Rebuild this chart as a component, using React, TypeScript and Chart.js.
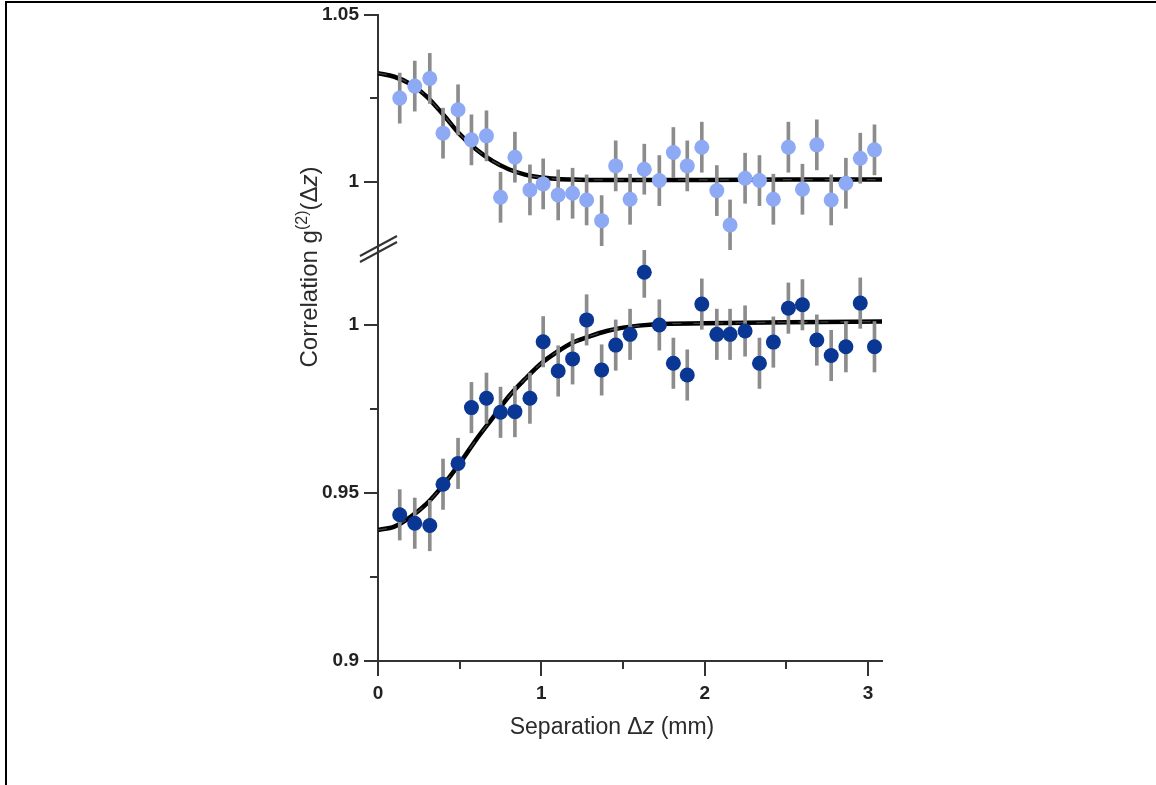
import React, { useEffect, useRef } from 'react';
import { Chart, registerables } from 'chart.js';

Chart.register(...registerables);

// Separation Δz (mm) of every measured point (same grid for both series)
const separations = [0.133, 0.225, 0.317, 0.398, 0.49, 0.572, 0.664, 0.75, 0.838, 0.93, 1.011, 1.103, 1.191, 1.277, 1.369, 1.455, 1.543, 1.63, 1.722, 1.808, 1.893, 1.982, 2.074, 2.155, 2.247, 2.335, 2.42, 2.512, 2.598, 2.686, 2.774, 2.864, 2.952, 3.039];

// upper panel (bunching, light blue)
const upperValues = [1.0251, 1.0287, 1.031, 1.0146, 1.0216, 1.0126, 1.0138, 0.9954, 1.0074, 0.9976, 0.9994, 0.9961, 0.9966, 0.9946, 0.9884, 1.0048, 0.9948, 1.0038, 1.0004, 1.0088, 1.0048, 1.0104, 0.9974, 0.9871, 1.0011, 1.0004, 0.9948, 1.0104, 0.9978, 1.0111, 0.9946, 0.9996, 1.0071, 1.0096];

// lower panel (antibunching, dark blue)
const lowerValues = [0.9435, 0.941, 0.9403, 0.9526, 0.9588, 0.9754, 0.9782, 0.974, 0.9742, 0.9782, 0.995, 0.9863, 0.9899, 1.0015, 0.9866, 0.994, 0.9972, 1.0157, 1.0, 0.9886, 0.9851, 1.0062, 0.9972, 0.9972, 0.9982, 0.9886, 0.9949, 1.005, 1.006, 0.9955, 0.9909, 0.9935, 1.0065, 0.9935];

// half length of the error bars
const errorHalf = 0.0075;

// fitted curves
const fitX = [0, 0.1, 0.2, 0.3, 0.4, 0.5, 0.6, 0.7, 0.8, 0.9, 1.0, 1.1, 1.2, 1.3, 1.4, 1.5, 1.7, 2.0, 2.5, 3.1];
const upperFit = [1.0326, 1.0315, 1.0293, 1.0255, 1.0201, 1.0143, 1.0098, 1.0063, 1.0038, 1.0022, 1.0013, 1.0009, 1.0007, 1.0006, 1.0006, 1.0006, 1.0006, 1.0006, 1.0007, 1.0007];
const lowerFit = [0.939, 0.94, 0.9429, 0.9469, 0.9524, 0.9588, 0.9658, 0.9722, 0.9787, 0.9839, 0.9886, 0.9921, 0.9949, 0.9967, 0.9982, 0.9992, 1.0002, 1.0005, 1.0008, 1.001];

// axis ticks
const xTickValues = [0, 0.5, 1, 1.5, 2, 2.5, 3];
const xTickLabels = ['0', '', '1', '', '2', '', '3'];
const upperTickValues = [1, 1.025, 1.05];
const upperTickLabels = ['1', '', '1.05'];
const lowerTickValues = [0.9, 0.925, 0.95, 0.975, 1];
const lowerTickLabels = ['0.9', '', '0.95', '', '1'];

// axis ranges
const xRange = [0, 3.085];
const upperRange = [0.9796, 1.05];
const lowerRange = [0.9, 1.0223];

const AXIS = '#333333';
const FONT = '"Liberation Sans", Arial, Helvetica, sans-serif';
const LIGHT = '#8eaaf5';
const DARK = '#0b3794';
const BAR = '#8c8c8c';

type Run = { text: string; font: string; dy?: number };

function drawRuns(ctx: CanvasRenderingContext2D, runs: Run[], cx: number, baseY: number) {
  let w = 0;
  for (const r of runs) {
    ctx.font = r.font;
    w += ctx.measureText(r.text).width;
  }
  let x = cx - w / 2;
  for (const r of runs) {
    ctx.font = r.font;
    ctx.fillText(r.text, x, baseY + (r.dy || 0));
    x += ctx.measureText(r.text).width;
  }
}

const decorPlugin = {
  id: 'decor',
  afterDraw(chart: any) {
    const ctx: CanvasRenderingContext2D = chart.ctx;
    const { x, y, y2 } = chart.scales;
    const area = chart.chartArea;
    ctx.save();
    ctx.strokeStyle = AXIS;
    ctx.lineWidth = 2;
    ctx.lineCap = 'butt';

    // y tick marks
    const yAxes: [any, string[]][] = [[y, lowerTickLabels], [y2, upperTickLabels]];
    for (const [sc, labels] of yAxes) {
      sc.ticks.forEach((t: any, i: number) => {
        const p = Math.round(sc.getPixelForValue(t.value));
        const len = labels[i] ? 14 : 8;
        ctx.beginPath();
        ctx.moveTo(area.left - len, p);
        ctx.lineTo(area.left + 1, p);
        ctx.stroke();
      });
    }
    // x tick marks
    x.ticks.forEach((t: any, i: number) => {
      const p = Math.round(x.getPixelForValue(t.value));
      const len = xTickLabels[i] ? 15 : 8;
      ctx.beginPath();
      ctx.moveTo(p, area.bottom - 1);
      ctx.lineTo(p, area.bottom + len);
      ctx.stroke();
    });

    // axis break marks
    const bx = area.left;
    const by = y2.bottom;
    ctx.lineWidth = 2;
    ctx.beginPath();
    ctx.moveTo(bx - 18, by + 6);
    ctx.lineTo(bx + 19, by - 14);
    ctx.moveTo(bx - 18, by + 12);
    ctx.lineTo(bx + 19, by - 8);
    ctx.stroke();

    // axis titles
    ctx.fillStyle = '#2b2b2b';
    ctx.textBaseline = 'alphabetic';
    ctx.textAlign = 'left';
    const reg = `23px ${FONT}`;
    const ital = `italic 23px ${FONT}`;
    drawRuns(ctx, [
      { text: 'Separation \u0394', font: reg },
      { text: 'z', font: ital },
      { text: ' (mm)', font: reg },
    ], area.left + 234, area.bottom + 73);

    const reg2 = `24px ${FONT}`;
    const ital2 = `italic 24px ${FONT}`;
    ctx.translate(area.left - 69, area.top + 252);
    ctx.rotate(-Math.PI / 2);
    drawRuns(ctx, [
      { text: 'Correlation g', font: reg2 },
      { text: '(2)', font: `16px ${FONT}`, dy: -10 },
      { text: '(\u0394', font: reg2 },
      { text: 'z', font: ital2 },
      { text: ')', font: reg2 },
    ], 0, 8);
    ctx.restore();
  },
};

function pts(xs: number[], ys: number[]) {
  return xs.map((v, i) => ({ x: v, y: ys[i] }));
}
function bars(xs: number[], ys: number[]) {
  return xs.map((v, i) => ({ x: v, y: [ys[i] - errorHalf, ys[i] + errorHalf] }));
}

const hiddenGrid = { display: true, drawOnChartArea: false, drawTicks: true, tickLength: 17, tickColor: 'rgba(0,0,0,0)', color: 'rgba(0,0,0,0)', offset: false };

function yScale(range: number[], values: number[], labels: string[], weight: number) {
  return {
    type: 'linear',
    position: 'left',
    stack: 'g2',
    stackWeight: weight,
    bounds: 'data',
    min: range[0],
    max: range[1],
    afterBuildTicks: (sc: any) => {
      sc.ticks = values.map((v) => ({ value: v }));
    },
    afterFit: (sc: any) => {
      sc.width = 60;
    },
    ticks: {
      autoSkip: false,
      padding: 2,
      color: '#222',
      font: { family: FONT, size: 19, weight: 'bold' },
      callback: (_v: any, i: number) => labels[i],
    },
    grid: { ...hiddenGrid, tickLength: 17 },
    border: { display: true, color: AXIS, width: 2 },
  };
}

export default function App() {
  const ref = useRef<HTMLCanvasElement | null>(null);

  useEffect(() => {
    if (!ref.current) return;
    const fitLine = (data: number[], axis: string) => ({
      type: 'line',
      data: pts(fitX, data),
      yAxisID: axis,
      borderColor: '#000',
      borderWidth: 4.5,
      pointRadius: 0,
      cubicInterpolationMode: 'monotone',
      order: 4,
    });
    const fitDash = (data: number[], axis: string) => ({
      type: 'line',
      data: pts(fitX, data),
      yAxisID: axis,
      borderColor: 'rgba(120,120,120,0.55)',
      borderWidth: 1.2,
      borderDash: [9, 12],
      pointRadius: 0,
      cubicInterpolationMode: 'monotone',
      order: 3,
    });
    const errBars = (data: number[], axis: string) => ({
      type: 'bar',
      data: bars(separations, data),
      yAxisID: axis,
      backgroundColor: BAR,
      borderWidth: 0,
      barThickness: 3,
      grouped: false,
      order: 2,
    });
    const dots = (data: number[], axis: string, color: string) => ({
      type: 'scatter',
      data: pts(separations, data),
      yAxisID: axis,
      backgroundColor: color,
      pointRadius: 7.5,
      pointBorderWidth: 0,
      pointHoverRadius: 7.5,
      order: 1,
    });

    const chart = new Chart(ref.current, {
      type: 'scatter',
      data: {
        datasets: [
          dots(upperValues, 'y2', LIGHT),
          dots(lowerValues, 'y', DARK),
          errBars(upperValues, 'y2'),
          errBars(lowerValues, 'y'),
          fitDash(upperFit, 'y2'),
          fitDash(lowerFit, 'y'),
          fitLine(upperFit, 'y2'),
          fitLine(lowerFit, 'y'),
        ] as any,
      },
      options: {
        animation: false,
        responsive: false,
        devicePixelRatio: 1,
        layout: { padding: { left: 318, top: 15, right: 274, bottom: 74 } },
        plugins: {
          legend: { display: false },
          tooltip: { enabled: false },
          title: { display: false },
        },
        scales: {
          x: {
            type: 'linear',
            position: 'bottom',
            offset: false,
            bounds: 'data',
            min: xRange[0],
            max: xRange[1],
            afterBuildTicks: (sc: any) => {
              sc.ticks = xTickValues.map((v) => ({ value: v }));
            },
            afterFit: (sc: any) => {
              sc.height = 50;
            },
            ticks: {
              autoSkip: false,
              maxRotation: 0,
              padding: 2,
              color: '#222',
              font: { family: FONT, size: 19, weight: 'bold' },
              callback: (_v: any, i: number) => xTickLabels[i],
            },
            grid: { ...hiddenGrid, tickLength: 19 },
            border: { display: true, color: AXIS, width: 2 },
          },
          y: yScale(lowerRange, lowerTickValues, lowerTickLabels, 411),
          y2: yScale(upperRange, upperTickValues, upperTickLabels, 235),
        } as any,
      },
      plugins: [decorPlugin],
    } as any);
    return () => chart.destroy();
  }, []);

  return (
    <div style={{ position: 'absolute', left: 0, top: 0, width: 1156, height: 785, background: '#fff', overflow: 'hidden' }}>
      <canvas ref={ref} width={1156} height={785} style={{ position: 'absolute', left: 0, top: 0, width: 1156, height: 785 }} />
      <div style={{ position: 'absolute', left: 5, top: 1, width: 1151, height: 2, background: '#000' }} />
      <div style={{ position: 'absolute', left: 5, top: 1, width: 2, height: 784, background: '#000' }} />
    </div>
  );
}
